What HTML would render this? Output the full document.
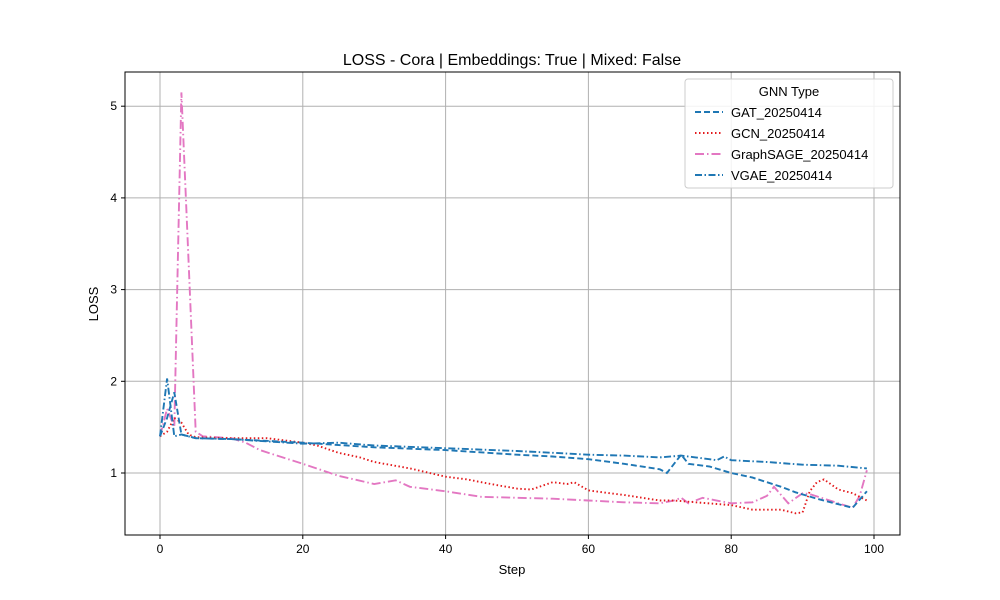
<!DOCTYPE html>
<html><head><meta charset="utf-8"><style>
body{margin:0;background:#fff;}
svg{display:block;font-family:"Liberation Sans","DejaVu Sans",sans-serif;}
</style></head><body>
<svg id="chart" width="1000" height="600" viewBox="0 0 1000 600">
<rect x="0" y="0" width="1000" height="600" fill="#fff"/>
<text x="512" y="65" text-anchor="middle" font-size="16">LOSS - Cora | Embeddings: True | Mixed: False</text>
<g id="grid"></g><g id="series"></g><g id="axes"></g>
<text x="512" y="574" text-anchor="middle" font-size="13">Step</text>
<text transform="translate(98,304) rotate(-90)" text-anchor="middle" font-size="13">LOSS</text>
<g id="legend"></g>
</svg>
<script>
const gatSteps=[0,1,2,3,5,10,20,30,40,50,55,60,65,70,71,73,74,77,80,83,87,89,92,95,97,99];
const gatVals=[1.4,1.6,1.88,1.42,1.38,1.37,1.33,1.28,1.25,1.2,1.18,1.15,1.1,1.04,1.0,1.2,1.1,1.07,1.0,0.95,0.85,0.79,0.72,0.66,0.62,0.8];
const gcnSteps=[0,1,2,3,4,5,10,15,20,22,25,28,30,35,40,43,45,47,50,52,55,57,58,60,62,65,70,72,75,80,83,85,87,89,90,91,92,93,95,97,99];
const gcnVals=[1.4,1.45,1.6,1.55,1.42,1.39,1.38,1.38,1.33,1.3,1.22,1.17,1.12,1.05,0.96,0.93,0.9,0.87,0.83,0.82,0.9,0.88,0.9,0.81,0.79,0.76,0.7,0.7,0.68,0.65,0.6,0.6,0.6,0.56,0.57,0.8,0.9,0.93,0.82,0.78,0.7];
const sageSteps=[0,1,2,3,4,5,6,10,12,14,16,20,25,30,33,35,40,45,50,55,60,65,70,72,73,74,76,80,83,85,86,88,90,91,93,95,97,98,99];
const sageVals=[1.4,1.7,1.5,5.15,3.3,1.45,1.4,1.38,1.33,1.25,1.2,1.1,0.97,0.88,0.92,0.85,0.8,0.74,0.73,0.72,0.7,0.68,0.67,0.7,0.73,0.67,0.73,0.67,0.68,0.75,0.85,0.67,0.78,0.77,0.72,0.67,0.62,0.75,1.03];
const vgaeSteps=[0,1,2,3,5,10,20,25,30,40,50,55,60,65,70,73,75,78,79,80,85,90,95,99];
const vgaeVals=[1.4,2.03,1.4,1.42,1.38,1.37,1.32,1.33,1.3,1.27,1.24,1.22,1.2,1.19,1.17,1.19,1.17,1.14,1.18,1.14,1.12,1.09,1.08,1.05];
const xTicks=[0,20,40,60,80,100];
const yTicks=[1,2,3,4,5];
const seriesNames=["GAT_20250414","GCN_20250414","GraphSAGE_20250414","VGAE_20250414"];

const L=125,R=900,T=72,B=535;
const xs=v=>160+v*7.14;
const ys=v=>564.7-v*91.7;
const NS="http://www.w3.org/2000/svg";
function mk(tag,attrs,parent){const e=document.createElementNS(NS,tag);for(const k in attrs)e.setAttribute(k,attrs[k]);parent.appendChild(e);return e;}
const grid=document.getElementById('grid'),axes=document.getElementById('axes'),ser=document.getElementById('series'),leg=document.getElementById('legend');
xTicks.forEach(t=>{
 const g=mk('line',{x1:xs(t),x2:xs(t),y1:T,y2:B,stroke:'#b0b0b0','stroke-width':1},grid);
 
 
 mk('line',{x1:xs(t),x2:xs(t),y1:B,y2:B+4,stroke:'#000'},axes);
 const tx=mk('text',{x:xs(t),y:B+18,'text-anchor':'middle','font-size':12},axes);tx.textContent=t;
 
 
});
yTicks.forEach(t=>{
 const g=mk('line',{x1:L,x2:R,y1:ys(t),y2:ys(t),stroke:'#b0b0b0','stroke-width':1},grid);
 
 
 mk('line',{x1:L-4,x2:L,y1:ys(t),y2:ys(t),stroke:'#000'},axes);
 const tx=mk('text',{x:L-8,y:ys(t)+4,'text-anchor':'end','font-size':12},axes);tx.textContent=t;
 
 
});
const frame=mk('rect',{x:L,y:T,width:R-L,height:B-T,fill:'none',stroke:'#000','stroke-width':1},axes);


const styles=[
 {c:'#1f77b4',d:'6,3',steps:gatSteps,vals:gatVals,n:'gat-line'},
 {c:'#e31a1c',d:'1.5,2.5',steps:gcnSteps,vals:gcnVals,n:'gcn-line'},
 {c:'#e377c2',d:'9,3,1.5,3',steps:sageSteps,vals:sageVals,n:'graphsage-line'},
 {c:'#1f77b4',d:'7,2.5,1.5,2.5',steps:vgaeSteps,vals:vgaeVals,n:'vgae-line'}];
[2,1,0,3].forEach(i=>{const s=styles[i];
 const pts=s.steps.map((st,j)=>xs(st).toFixed(1)+','+ys(s.vals[j]).toFixed(1)).join(' ');
 const p=mk('polyline',{points:pts,fill:'none',stroke:s.c,'stroke-width':1.9,'stroke-dasharray':s.d},ser);
 
 
});
mk('rect',{x:685,y:79,width:208,height:109,rx:3,fill:'#fff','fill-opacity':0.85,stroke:'#ccc'},leg);
const lt=mk('text',{x:789,y:96,'text-anchor':'middle','font-size':13},leg);lt.textContent='GNN Type';


seriesNames.forEach((nm,i)=>{const s=styles[i];const y=112+i*21;
 mk('line',{x1:695,x2:723,y1:y,y2:y,stroke:s.c,'stroke-width':1.9,'stroke-dasharray':s.d},leg);
 const t=mk('text',{x:731,y:y+5,'font-size':13},leg);t.textContent=nm;
 
 
});
</script>
</body></html>
